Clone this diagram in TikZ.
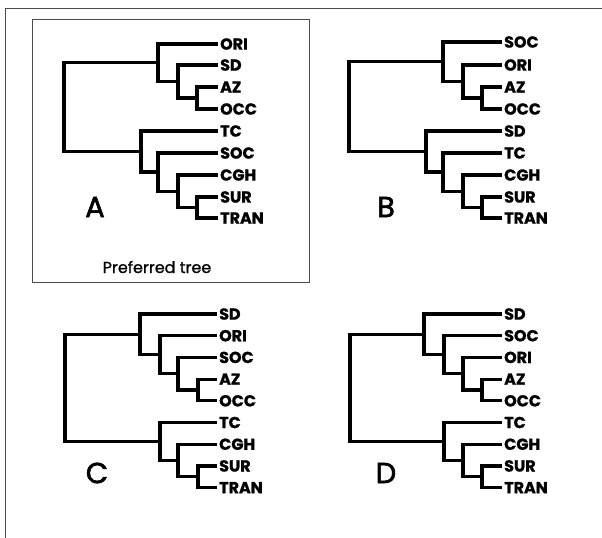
\documentclass[tikz,border=0pt]{standalone}
\usepackage{fontspec}
\setmainfont{Poppins}
\newfontfamily\leaffont{Poppins}[BoldFeatures={FakeBold=1.2}]
\newfontfamily\panelfont{Poppins}[FakeBold=2]
\newfontfamily\captionfont{Poppins}[FakeBold=1]

\tikzset{
  branch/.style={line width=3.2bp, line join=miter, line cap=butt, black},
  leaf/.style={anchor=west, inner sep=2bp, font=\fontsize{16}{16}\leaffont\bfseries},
  panel/.style={font=\fontsize{29}{29}\panelfont},
  frame/.style={line width=1bp, black!70},
}

\begin{document}
\begin{tikzpicture}[x=1bp, y=-1bp]
\useasboundingbox (0,0) rectangle (602,538);

% outer frame (top and left edges)
\draw[frame] (602,9) -- (5,9) -- (5,538);
% box round the preferred tree
\draw[frame] (32,20) rectangle (309,282);

% ---------- tree A ----------
\node[leaf] (aORI)  at (218,44)  {ORI};
\node[leaf] (aSD)   at (218,65)  {SD};
\node[leaf] (aAZ)   at (218,87)  {AZ};
\node[leaf] (aOCC)  at (218,109) {OCC};
\node[leaf] (aTC)   at (218,131) {TC};
\node[leaf] (aSOC)  at (218,153) {SOC};
\node[leaf] (aCGH)  at (218,175) {CGH};
\node[leaf] (aSUR)  at (218,197) {SUR};
\node[leaf] (aTRAN) at (218,218) {TRAN};
\coordinate (a1) at (197,98);
\coordinate (a2) at (178,81.5);
\coordinate (a3) at (158,62.75);
\coordinate (a4) at (197,207.5);
\coordinate (a5) at (178,191.25);
\coordinate (a6) at (158,172.1);
\coordinate (a7) at (141,151.5);
\coordinate (a0) at (64,107);
\draw[branch] (aAZ.west) -| (a1) |- (aOCC.west);
\draw[branch] (aSD.west) -| (a2) |- (a1);
\draw[branch] (aORI.west) -| (a3) |- (a2);
\draw[branch] (aSUR.west) -| (a4) |- (aTRAN.west);
\draw[branch] (aCGH.west) -| (a5) |- (a4);
\draw[branch] (aSOC.west) -| (a6) |- (a5);
\draw[branch] (aTC.west) -| (a7) |- (a6);
\draw[branch] (a3) -| (a0) |- (a7);
\node[panel] (labA) at (95,207) {A};
\node[font=\fontsize{16}{16}\captionfont] (pref) at (157,267) {Preferred tree};

% ---------- tree B ----------
\node[leaf] (bSOC)  at (502,42)  {SOC};
\node[leaf] (bORI)  at (502,65)  {ORI};
\node[leaf] (bAZ)   at (502,87)  {AZ};
\node[leaf] (bOCC)  at (502,109) {OCC};
\node[leaf] (bSD)   at (502,131) {SD};
\node[leaf] (bTC)   at (502,153) {TC};
\node[leaf] (bCGH)  at (502,175) {CGH};
\node[leaf] (bSUR)  at (502,197) {SUR};
\node[leaf] (bTRAN) at (502,218) {TRAN};
\coordinate (b1) at (482,98);
\coordinate (b2) at (463,81.5);
\coordinate (b3) at (443,61.75);
\coordinate (b4) at (482,207.5);
\coordinate (b5) at (463,191.25);
\coordinate (b6) at (443,172.1);
\coordinate (b7) at (426,151.5);
\coordinate (b0) at (349,107);
\draw[branch] (bAZ.west) -| (b1) |- (bOCC.west);
\draw[branch] (bORI.west) -| (b2) |- (b1);
\draw[branch] (bSOC.west) -| (b3) |- (b2);
\draw[branch] (bSUR.west) -| (b4) |- (bTRAN.west);
\draw[branch] (bCGH.west) -| (b5) |- (b4);
\draw[branch] (bTC.west) -| (b6) |- (b5);
\draw[branch] (bSD.west) -| (b7) |- (b6);
\draw[branch] (b3) -| (b0) |- (b7);
\node[panel] (labB) at (386,207) {B};

% ---------- tree C ----------
\node[leaf] (cSD)   at (217,314)   {SD};
\node[leaf] (cORI)  at (217,335.7) {ORI};
\node[leaf] (cSOC)  at (217,357.4) {SOC};
\node[leaf] (cAZ)   at (217,379.1) {AZ};
\node[leaf] (cOCC)  at (217,400.8) {OCC};
\node[leaf] (cTC)   at (217,422.5) {TC};
\node[leaf] (cCGH)  at (217,444.2) {CGH};
\node[leaf] (cSUR)  at (217,465.9) {SUR};
\node[leaf] (cTRAN) at (217,487.6) {TRAN};
\coordinate (c1) at (198,390);
\coordinate (c2) at (178,373.7);
\coordinate (c3) at (160,354.7);
\coordinate (c4) at (140,334.4);
\coordinate (c5) at (198,476.8);
\coordinate (c6) at (178,460.5);
\coordinate (c7) at (160,441.5);
\coordinate (c0) at (65,388);
\draw[branch] (cAZ.west) -| (c1) |- (cOCC.west);
\draw[branch] (cSOC.west) -| (c2) |- (c1);
\draw[branch] (cORI.west) -| (c3) |- (c2);
\draw[branch] (cSD.west) -| (c4) |- (c3);
\draw[branch] (cSUR.west) -| (c5) |- (cTRAN.west);
\draw[branch] (cCGH.west) -| (c6) |- (c5);
\draw[branch] (cTC.west) -| (c7) |- (c6);
\draw[branch] (c4) -| (c0) |- (c7);
\node[panel] (labC) at (97,473) {C};

% ---------- tree D ----------
\node[leaf] (dSD)   at (502,314)   {SD};
\node[leaf] (dSOC)  at (502,335.7) {SOC};
\node[leaf] (dORI)  at (502,357.4) {ORI};
\node[leaf] (dAZ)   at (502,379.1) {AZ};
\node[leaf] (dOCC)  at (502,400.8) {OCC};
\node[leaf] (dTC)   at (502,422.5) {TC};
\node[leaf] (dCGH)  at (502,444.2) {CGH};
\node[leaf] (dSUR)  at (502,465.9) {SUR};
\node[leaf] (dTRAN) at (502,487.6) {TRAN};
\coordinate (d1) at (482,390);
\coordinate (d2) at (463,373.7);
\coordinate (d3) at (444,354.7);
\coordinate (d4) at (424,334.4);
\coordinate (d5) at (482,476.8);
\coordinate (d6) at (463,460.5);
\coordinate (d7) at (444,441.5);
\coordinate (d0) at (350,388);
\draw[branch] (dAZ.west) -| (d1) |- (dOCC.west);
\draw[branch] (dORI.west) -| (d2) |- (d1);
\draw[branch] (dSOC.west) -| (d3) |- (d2);
\draw[branch] (dSD.west) -| (d4) |- (d3);
\draw[branch] (dSUR.west) -| (d5) |- (dTRAN.west);
\draw[branch] (dCGH.west) -| (d6) |- (d5);
\draw[branch] (dTC.west) -| (d7) |- (d6);
\draw[branch] (d4) -| (d0) |- (d7);
\node[panel] (labD) at (386,473) {D};
\end{tikzpicture}
\end{document}
